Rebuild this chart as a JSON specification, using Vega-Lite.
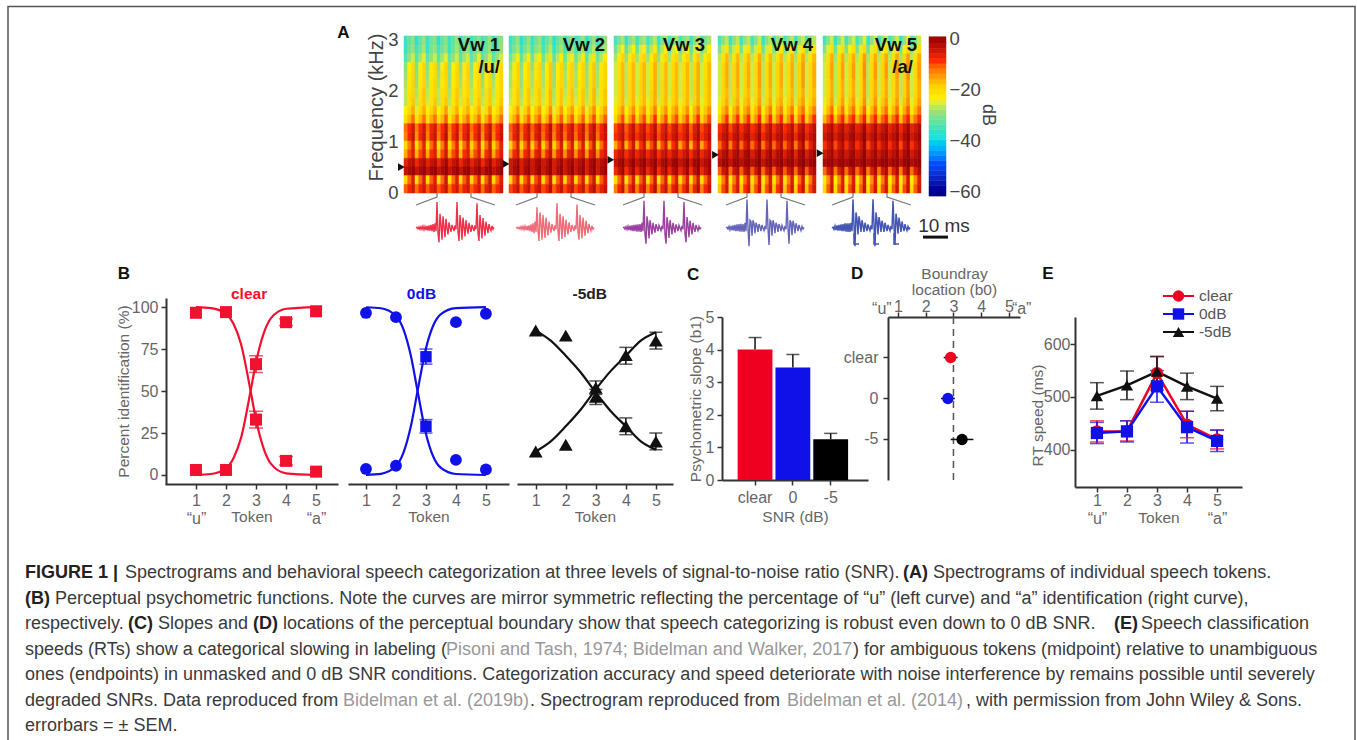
{"$schema":"https://vega.github.io/schema/vega-lite/v6.json","width":1357,"height":740,"padding":0,"autosize":{"type":"none"},"background":"white",
"config":{"font":"Liberation Sans","view":{"stroke":null},"axis":{"grid":false,"domainColor":"#333","domainWidth":2,"tickColor":"#333","tickWidth":1.5,"tickSize":5,"labelColor":"#666","labelFontSize":16,"labelPadding":3,"labelOverlap":false,"titleColor":"#666","titleFontSize":15.5,"titleFontWeight":"normal"}},
"resolve":{"scale":{"x":"independent","y":"independent","color":"independent","stroke":"independent","shape":"independent"},"axis":{"x":"independent","y":"independent"}},
"datasets":{
"spec":[
{"vw":1,"f":2.88,"f2":3.06,"db":[-37,-34,-31,-38,-34,-30,-37,-33,-31,-38,-34,-31,-37,-34,-30,-38,-33,-31,-37,-34,-31,-36,-34,-30,-37,-33,-31]},
{"vw":1,"f":2.71,"f2":2.88,"db":[-37,-33,-30,-36,-33,-29,-37,-32,-30,-36,-33,-30,-37,-33,-29,-36,-32,-30,-37,-33,-30,-36,-33,-30,-37,-33,-30]},
{"vw":1,"f":2.54,"f2":2.71,"db":[-35,-30,-27,-35,-29,-26,-34,-30,-27,-35,-29,-26,-34,-30,-27,-35,-29,-27,-34,-30,-26,-35,-30,-27,-34,-30,-27]},
{"vw":1,"f":2.37,"f2":2.54,"db":[-31,-25,-21,-32,-25,-20,-31,-24,-21,-31,-25,-20,-32,-25,-21,-31,-24,-21,-31,-25,-20,-32,-25,-21,-31,-25,-21]},
{"vw":1,"f":2.2,"f2":2.37,"db":[-30,-24,-20,-31,-24,-20,-30,-24,-21,-30,-23,-20,-31,-24,-20,-30,-24,-20,-30,-24,-21,-31,-24,-20,-30,-24,-20]},
{"vw":1,"f":2.03,"f2":2.2,"db":[-29,-24,-20,-30,-24,-20,-29,-23,-20,-29,-24,-21,-30,-24,-20,-29,-23,-20,-29,-24,-20,-30,-24,-20,-29,-24,-20]},
{"vw":1,"f":1.85,"f2":2.03,"db":[-28,-23,-20,-29,-23,-19,-28,-23,-20,-28,-22,-20,-29,-23,-19,-28,-23,-20,-28,-23,-20,-29,-22,-19,-28,-23,-20]},
{"vw":1,"f":1.68,"f2":1.85,"db":[-28,-23,-19,-28,-22,-19,-27,-23,-19,-28,-22,-19,-28,-23,-19,-27,-22,-19,-28,-23,-19,-28,-22,-19,-27,-23,-19]},
{"vw":1,"f":1.51,"f2":1.68,"db":[-25,-21,-17,-26,-21,-17,-25,-20,-17,-25,-21,-16,-26,-21,-17,-25,-20,-17,-25,-21,-17,-26,-21,-16,-25,-21,-17]},
{"vw":1,"f":1.34,"f2":1.51,"db":[-22,-18,-13,-23,-18,-13,-22,-17,-13,-22,-18,-12,-23,-18,-13,-22,-17,-13,-22,-18,-13,-23,-17,-12,-22,-18,-13]},
{"vw":1,"f":1.17,"f2":1.34,"db":[-13,-10,-6,-14,-10,-6,-13,-9,-6,-13,-10,-5,-14,-10,-6,-13,-9,-6,-13,-10,-6,-14,-9,-5,-13,-10,-6]},
{"vw":1,"f":1.0,"f2":1.17,"db":[-14,-9,-5,-15,-9,-5,-14,-8,-5,-14,-9,-4,-15,-9,-5,-14,-8,-5,-14,-9,-5,-15,-8,-4,-14,-9,-5]},
{"vw":1,"f":0.83,"f2":1.0,"db":[-21,-14,-8,-22,-14,-8,-21,-13,-8,-22,-14,-7,-21,-14,-8,-22,-13,-8,-21,-14,-8,-22,-13,-7,-21,-14,-8]},
{"vw":1,"f":0.66,"f2":0.83,"db":[-17,-11,-7,-18,-11,-7,-17,-10,-7,-18,-11,-6,-17,-11,-7,-18,-10,-7,-17,-11,-7,-18,-10,-6,-17,-11,-7]},
{"vw":1,"f":0.49,"f2":0.66,"db":[-8,-5,-3,-9,-5,-3,-8,-5,-3,-9,-5,-2,-8,-5,-3,-9,-5,-3,-8,-5,-3,-9,-5,-2,-8,-5,-3]},
{"vw":1,"f":0.32,"f2":0.49,"db":[-5,-3,-1,-5,-3,-1,-5,-2,-1,-5,-3,-1,-5,-3,-1,-5,-2,-1,-5,-3,-1,-5,-2,-1,-5,-3,-1]},
{"vw":1,"f":0.15,"f2":0.32,"db":[-21,-13,-7,-22,-13,-7,-21,-12,-7,-21,-13,-6,-22,-13,-7,-21,-12,-7,-21,-13,-7,-22,-12,-6,-21,-13,-7]},
{"vw":1,"f":-0.02,"f2":0.15,"db":[-12,-9,-6,-13,-9,-6,-12,-8,-6,-12,-9,-5,-13,-9,-6,-12,-8,-6,-12,-9,-6,-13,-8,-5,-12,-9,-6]},
{"vw":2,"f":2.88,"f2":3.06,"db":[-37,-34,-30,-38,-34,-30,-37,-33,-30,-37,-34,-30,-38,-34,-31,-37,-33,-30,-37,-34,-30,-38,-34,-30,-37,-34,-30]},
{"vw":2,"f":2.71,"f2":2.88,"db":[-36,-32,-29,-37,-32,-29,-36,-31,-29,-36,-32,-28,-37,-32,-29,-36,-31,-29,-36,-32,-29,-37,-32,-28,-36,-32,-29]},
{"vw":2,"f":2.54,"f2":2.71,"db":[-33,-28,-24,-34,-28,-24,-33,-27,-24,-33,-28,-23,-34,-28,-24,-33,-27,-24,-33,-28,-24,-34,-27,-23,-33,-28,-24]},
{"vw":2,"f":2.37,"f2":2.54,"db":[-30,-24,-20,-31,-24,-20,-30,-23,-20,-30,-24,-19,-31,-24,-20,-30,-23,-20,-30,-24,-20,-31,-23,-19,-30,-24,-20]},
{"vw":2,"f":2.2,"f2":2.37,"db":[-29,-24,-20,-30,-24,-20,-29,-23,-20,-29,-24,-19,-30,-24,-20,-29,-23,-20,-29,-24,-20,-30,-23,-19,-29,-24,-20]},
{"vw":2,"f":2.03,"f2":2.2,"db":[-29,-23,-20,-30,-23,-20,-29,-22,-20,-29,-23,-19,-30,-23,-20,-29,-22,-20,-29,-23,-20,-30,-22,-19,-29,-23,-20]},
{"vw":2,"f":1.85,"f2":2.03,"db":[-28,-23,-19,-29,-23,-19,-28,-22,-19,-28,-23,-18,-29,-23,-19,-28,-22,-19,-28,-23,-19,-29,-22,-18,-28,-23,-19]},
{"vw":2,"f":1.68,"f2":1.85,"db":[-27,-23,-19,-28,-23,-19,-27,-22,-19,-27,-23,-18,-28,-23,-19,-27,-22,-19,-27,-23,-19,-28,-22,-18,-27,-23,-19]},
{"vw":2,"f":1.51,"f2":1.68,"db":[-25,-20,-16,-26,-20,-16,-25,-19,-16,-25,-20,-15,-26,-20,-16,-25,-19,-16,-25,-20,-16,-26,-19,-15,-25,-20,-16]},
{"vw":2,"f":1.34,"f2":1.51,"db":[-22,-17,-12,-23,-17,-12,-22,-16,-12,-22,-17,-11,-23,-17,-12,-22,-16,-12,-22,-17,-12,-23,-16,-11,-22,-17,-12]},
{"vw":2,"f":1.17,"f2":1.34,"db":[-12,-9,-5,-13,-9,-5,-12,-8,-5,-12,-9,-4,-13,-9,-5,-12,-8,-5,-12,-9,-5,-13,-8,-4,-12,-9,-5]},
{"vw":2,"f":1.0,"f2":1.17,"db":[-13,-8,-5,-14,-8,-5,-13,-7,-5,-13,-8,-4,-14,-8,-5,-13,-7,-5,-13,-8,-5,-14,-7,-4,-13,-8,-5]},
{"vw":2,"f":0.83,"f2":1.0,"db":[-20,-13,-7,-21,-13,-7,-20,-12,-7,-20,-13,-6,-21,-13,-7,-20,-12,-7,-20,-13,-7,-21,-12,-6,-20,-13,-7]},
{"vw":2,"f":0.66,"f2":0.83,"db":[-15,-9,-6,-16,-9,-6,-15,-8,-6,-15,-9,-5,-16,-9,-6,-15,-8,-6,-15,-9,-6,-16,-8,-5,-15,-9,-6]},
{"vw":2,"f":0.49,"f2":0.66,"db":[-6,-4,-2,-7,-4,-2,-6,-3,-2,-6,-4,-1,-7,-4,-2,-6,-3,-2,-6,-4,-2,-7,-3,-1,-6,-4,-2]},
{"vw":2,"f":0.32,"f2":0.49,"db":[-6,-3,-1,-7,-3,-1,-6,-3,-1,-6,-3,-1,-7,-3,-1,-6,-3,-1,-6,-3,-1,-7,-3,-1,-6,-3,-1]},
{"vw":2,"f":0.15,"f2":0.32,"db":[-21,-12,-7,-22,-12,-7,-21,-11,-7,-21,-12,-6,-22,-12,-7,-21,-11,-7,-21,-12,-7,-22,-11,-6,-21,-12,-7]},
{"vw":2,"f":-0.02,"f2":0.15,"db":[-11,-8,-5,-12,-8,-5,-11,-7,-5,-11,-8,-4,-12,-8,-5,-11,-7,-5,-11,-8,-5,-12,-7,-4,-11,-8,-5]},
{"vw":3,"f":2.88,"f2":3.06,"db":[-36,-32,-29,-37,-32,-29,-36,-31,-29,-36,-32,-28,-37,-32,-29,-36,-31,-29,-36,-32,-29,-37,-31,-28,-36,-32,-29]},
{"vw":3,"f":2.71,"f2":2.88,"db":[-33,-28,-25,-34,-28,-25,-33,-27,-25,-33,-28,-24,-34,-28,-25,-33,-27,-25,-33,-28,-25,-34,-27,-24,-33,-28,-25]},
{"vw":3,"f":2.54,"f2":2.71,"db":[-29,-24,-20,-30,-24,-20,-29,-23,-20,-29,-24,-19,-30,-24,-20,-29,-23,-20,-29,-24,-20,-30,-23,-19,-29,-24,-20]},
{"vw":3,"f":2.37,"f2":2.54,"db":[-27,-22,-18,-28,-22,-18,-27,-21,-18,-27,-22,-17,-28,-22,-18,-27,-21,-18,-27,-22,-18,-28,-21,-17,-27,-22,-18]},
{"vw":3,"f":2.2,"f2":2.37,"db":[-27,-22,-18,-28,-22,-18,-27,-21,-18,-27,-22,-17,-28,-22,-18,-27,-21,-18,-27,-22,-18,-28,-21,-17,-27,-22,-18]},
{"vw":3,"f":2.03,"f2":2.2,"db":[-27,-21,-18,-28,-21,-18,-27,-20,-18,-27,-21,-17,-28,-21,-18,-27,-20,-18,-27,-21,-18,-28,-20,-17,-27,-21,-18]},
{"vw":3,"f":1.85,"f2":2.03,"db":[-27,-21,-18,-28,-21,-18,-27,-20,-18,-27,-21,-17,-28,-21,-18,-27,-20,-18,-27,-21,-18,-28,-20,-17,-27,-21,-18]},
{"vw":3,"f":1.68,"f2":1.85,"db":[-26,-21,-18,-27,-21,-18,-26,-20,-18,-26,-21,-17,-27,-21,-18,-26,-20,-18,-26,-21,-18,-27,-20,-17,-26,-21,-18]},
{"vw":3,"f":1.51,"f2":1.68,"db":[-24,-19,-15,-25,-19,-15,-24,-18,-15,-24,-19,-14,-25,-19,-15,-24,-18,-15,-24,-19,-15,-25,-18,-14,-24,-19,-15]},
{"vw":3,"f":1.34,"f2":1.51,"db":[-21,-16,-11,-22,-16,-11,-21,-15,-11,-21,-16,-10,-22,-16,-11,-21,-15,-11,-21,-16,-11,-22,-15,-10,-21,-16,-11]},
{"vw":3,"f":1.17,"f2":1.34,"db":[-11,-8,-5,-12,-8,-5,-11,-7,-5,-11,-8,-4,-12,-8,-5,-11,-7,-5,-11,-8,-5,-12,-7,-4,-11,-8,-5]},
{"vw":3,"f":1.0,"f2":1.17,"db":[-10,-7,-4,-11,-7,-4,-10,-6,-4,-10,-7,-3,-11,-7,-4,-10,-6,-4,-10,-7,-4,-11,-6,-3,-10,-7,-4]},
{"vw":3,"f":0.83,"f2":1.0,"db":[-17,-11,-6,-18,-11,-6,-17,-10,-6,-17,-11,-5,-18,-11,-6,-17,-10,-6,-17,-11,-6,-18,-10,-5,-17,-11,-6]},
{"vw":3,"f":0.66,"f2":0.83,"db":[-9,-6,-4,-10,-6,-4,-9,-5,-4,-9,-6,-3,-10,-6,-4,-9,-5,-4,-9,-6,-4,-10,-5,-3,-9,-6,-4]},
{"vw":3,"f":0.49,"f2":0.66,"db":[-5,-3,-1,-6,-3,-1,-5,-2,-1,-5,-3,-1,-6,-3,-1,-5,-2,-1,-5,-3,-1,-6,-2,-1,-5,-3,-1]},
{"vw":3,"f":0.32,"f2":0.49,"db":[-9,-5,-2,-10,-5,-2,-9,-4,-2,-9,-5,-1,-10,-5,-2,-9,-4,-2,-9,-5,-2,-10,-4,-1,-9,-5,-2]},
{"vw":3,"f":0.15,"f2":0.32,"db":[-22,-13,-7,-23,-13,-7,-22,-12,-7,-22,-13,-6,-23,-13,-7,-22,-12,-7,-22,-13,-7,-23,-12,-6,-22,-13,-7]},
{"vw":3,"f":-0.02,"f2":0.15,"db":[-14,-9,-5,-15,-9,-5,-14,-8,-5,-14,-9,-4,-15,-9,-5,-14,-8,-5,-14,-9,-5,-15,-8,-4,-14,-9,-5]},
{"vw":4,"f":2.88,"f2":3.06,"db":[-36,-31,-28,-37,-31,-28,-36,-30,-28,-36,-31,-27,-37,-31,-28,-36,-30,-28,-36,-31,-28,-37,-30,-27,-36,-31,-28]},
{"vw":4,"f":2.71,"f2":2.88,"db":[-32,-27,-23,-33,-27,-23,-32,-26,-23,-32,-27,-22,-33,-27,-23,-32,-26,-23,-32,-27,-23,-33,-26,-22,-32,-27,-23]},
{"vw":4,"f":2.54,"f2":2.71,"db":[-28,-23,-18,-29,-23,-18,-28,-22,-18,-28,-23,-17,-29,-23,-18,-28,-22,-18,-28,-23,-18,-29,-22,-17,-28,-23,-18]},
{"vw":4,"f":2.37,"f2":2.54,"db":[-27,-21,-17,-28,-21,-17,-27,-20,-17,-27,-21,-16,-28,-21,-17,-27,-20,-17,-27,-21,-17,-28,-20,-16,-27,-21,-17]},
{"vw":4,"f":2.2,"f2":2.37,"db":[-27,-21,-17,-28,-21,-17,-27,-20,-17,-27,-21,-16,-28,-21,-17,-27,-20,-17,-27,-21,-17,-28,-20,-16,-27,-21,-17]},
{"vw":4,"f":2.03,"f2":2.2,"db":[-27,-21,-17,-28,-21,-17,-27,-20,-17,-27,-21,-16,-28,-21,-17,-27,-20,-17,-27,-21,-17,-28,-20,-16,-27,-21,-17]},
{"vw":4,"f":1.85,"f2":2.03,"db":[-27,-21,-18,-28,-21,-18,-27,-20,-18,-27,-21,-17,-28,-21,-18,-27,-20,-18,-27,-21,-18,-28,-20,-17,-27,-21,-18]},
{"vw":4,"f":1.68,"f2":1.85,"db":[-26,-20,-17,-27,-20,-17,-26,-19,-17,-26,-20,-16,-27,-20,-17,-26,-19,-17,-26,-20,-17,-27,-19,-16,-26,-20,-17]},
{"vw":4,"f":1.51,"f2":1.68,"db":[-24,-18,-14,-25,-18,-14,-24,-17,-14,-24,-18,-13,-25,-18,-14,-24,-17,-14,-24,-18,-14,-25,-17,-13,-24,-18,-14]},
{"vw":4,"f":1.34,"f2":1.51,"db":[-20,-15,-10,-21,-15,-10,-20,-14,-10,-20,-15,-9,-21,-15,-10,-20,-14,-10,-20,-15,-10,-21,-14,-9,-20,-15,-10]},
{"vw":4,"f":1.17,"f2":1.34,"db":[-10,-7,-4,-11,-7,-4,-10,-6,-4,-10,-7,-3,-11,-7,-4,-10,-6,-4,-10,-7,-4,-11,-6,-3,-10,-7,-4]},
{"vw":4,"f":1.0,"f2":1.17,"db":[-8,-5,-3,-9,-5,-3,-8,-4,-3,-8,-5,-2,-9,-5,-3,-8,-4,-3,-8,-5,-3,-9,-4,-2,-8,-5,-3]},
{"vw":4,"f":0.83,"f2":1.0,"db":[-13,-8,-4,-14,-8,-4,-13,-7,-4,-13,-8,-3,-14,-8,-4,-13,-7,-4,-13,-8,-4,-14,-7,-3,-13,-8,-4]},
{"vw":4,"f":0.66,"f2":0.83,"db":[-7,-4,-2,-8,-4,-2,-7,-3,-2,-7,-4,-1,-8,-4,-2,-7,-3,-2,-7,-4,-2,-8,-3,-1,-7,-4,-2]},
{"vw":4,"f":0.49,"f2":0.66,"db":[-4,-2,-1,-5,-2,-1,-4,-2,-1,-4,-2,0,-5,-2,-1,-4,-2,-1,-4,-2,-1,-5,-2,0,-4,-2,-1]},
{"vw":4,"f":0.32,"f2":0.49,"db":[-12,-6,-3,-13,-6,-3,-12,-5,-3,-12,-6,-2,-13,-6,-3,-12,-5,-3,-12,-6,-3,-13,-5,-2,-12,-6,-3]},
{"vw":4,"f":0.15,"f2":0.32,"db":[-23,-14,-7,-24,-14,-7,-23,-13,-7,-23,-14,-6,-24,-14,-7,-23,-13,-7,-23,-14,-7,-24,-13,-6,-23,-14,-7]},
{"vw":4,"f":-0.02,"f2":0.15,"db":[-19,-11,-6,-20,-11,-6,-19,-10,-6,-19,-11,-5,-20,-11,-6,-19,-10,-6,-19,-11,-6,-20,-10,-5,-19,-11,-6]},
{"vw":5,"f":2.88,"f2":3.06,"db":[-36,-31,-27,-37,-31,-27,-36,-30,-27,-36,-31,-26,-37,-31,-27,-36,-30,-27,-36,-31,-27,-37,-30,-26,-36,-31,-27]},
{"vw":5,"f":2.71,"f2":2.88,"db":[-32,-26,-22,-33,-26,-22,-32,-25,-22,-32,-26,-21,-33,-26,-22,-32,-25,-22,-32,-26,-22,-33,-25,-21,-32,-26,-22]},
{"vw":5,"f":2.54,"f2":2.71,"db":[-28,-22,-17,-29,-22,-17,-28,-21,-17,-28,-22,-16,-29,-22,-17,-28,-21,-17,-28,-22,-17,-29,-21,-16,-28,-22,-17]},
{"vw":5,"f":2.37,"f2":2.54,"db":[-27,-21,-16,-28,-21,-16,-27,-20,-16,-27,-21,-15,-28,-21,-16,-27,-20,-16,-27,-21,-16,-28,-20,-15,-27,-21,-16]},
{"vw":5,"f":2.2,"f2":2.37,"db":[-27,-21,-16,-28,-21,-16,-27,-20,-16,-27,-21,-15,-28,-21,-16,-27,-20,-16,-27,-21,-16,-28,-20,-15,-27,-21,-16]},
{"vw":5,"f":2.03,"f2":2.2,"db":[-27,-21,-17,-28,-21,-17,-27,-20,-17,-27,-21,-16,-28,-21,-17,-27,-20,-17,-27,-21,-17,-28,-20,-16,-27,-21,-17]},
{"vw":5,"f":1.85,"f2":2.03,"db":[-27,-21,-17,-28,-21,-17,-27,-20,-17,-27,-21,-16,-28,-21,-17,-27,-20,-17,-27,-21,-17,-28,-20,-16,-27,-21,-17]},
{"vw":5,"f":1.68,"f2":1.85,"db":[-26,-20,-16,-27,-20,-16,-26,-19,-16,-26,-20,-15,-27,-20,-16,-26,-19,-16,-26,-20,-16,-27,-19,-15,-26,-20,-16]},
{"vw":5,"f":1.51,"f2":1.68,"db":[-24,-18,-13,-25,-18,-13,-24,-17,-13,-24,-18,-12,-25,-18,-13,-24,-17,-13,-24,-18,-13,-25,-17,-12,-24,-18,-13]},
{"vw":5,"f":1.34,"f2":1.51,"db":[-18,-13,-9,-19,-13,-9,-18,-12,-9,-18,-13,-8,-19,-13,-9,-18,-12,-9,-18,-13,-9,-19,-12,-8,-18,-13,-9]},
{"vw":5,"f":1.17,"f2":1.34,"db":[-8,-6,-3,-9,-6,-3,-8,-5,-3,-8,-6,-2,-9,-6,-3,-8,-5,-3,-8,-6,-3,-9,-5,-2,-8,-6,-3]},
{"vw":5,"f":1.0,"f2":1.17,"db":[-6,-4,-2,-7,-4,-2,-6,-3,-2,-6,-4,-1,-7,-4,-2,-6,-3,-2,-6,-4,-2,-7,-3,-1,-6,-4,-2]},
{"vw":5,"f":0.83,"f2":1.0,"db":[-10,-6,-3,-11,-6,-3,-10,-5,-3,-10,-6,-2,-11,-6,-3,-10,-5,-3,-10,-6,-3,-11,-5,-2,-10,-6,-3]},
{"vw":5,"f":0.66,"f2":0.83,"db":[-6,-4,-2,-7,-4,-2,-6,-3,-2,-6,-4,-1,-7,-4,-2,-6,-3,-2,-6,-4,-2,-7,-3,-1,-6,-4,-2]},
{"vw":5,"f":0.49,"f2":0.66,"db":[-3,-2,-1,-4,-2,-1,-3,-1,-1,-3,-2,0,-4,-2,-1,-3,-1,-1,-3,-2,-1,-4,-1,0,-3,-2,-1]},
{"vw":5,"f":0.32,"f2":0.49,"db":[-13,-7,-3,-14,-7,-3,-13,-6,-3,-13,-7,-2,-14,-7,-3,-13,-6,-3,-13,-7,-3,-14,-6,-2,-13,-7,-3]},
{"vw":5,"f":0.15,"f2":0.32,"db":[-24,-15,-7,-25,-15,-7,-24,-14,-7,-24,-15,-6,-25,-15,-7,-24,-14,-7,-24,-15,-7,-25,-14,-6,-24,-15,-7]},
{"vw":5,"f":-0.02,"f2":0.15,"db":[-21,-12,-6,-22,-12,-6,-21,-11,-6,-21,-12,-5,-22,-12,-6,-21,-11,-6,-21,-12,-6,-22,-11,-5,-21,-12,-6]}
],
"wave":[
{"vw":1,"amp":[0,0.03,-0.03,0.04,-0.05,0.05,-0.05,0.07,-0.07,0.06,-0.08,0.08,-0.1,0.1,-0.1,0.12,-0.12,0.15,-0.15,0.18,-0.12,1,-0.2,-0.55,0.55,0.1,-0.45,0.45,0.05,-0.35,0.35,0,-0.25,0.22,0.02,-0.15,0.12,0,-0.12,0.1,-0.05,1,-0.15,-0.5,0.5,0.1,-0.45,0.4,0.05,-0.32,0.3,0,-0.22,0.2,0.02,-0.15,0.12,0,-0.12,0.1,-0.05,0.95,-0.2,-0.5,0.5,0.08,-0.4,0.38,0.03,-0.3,0.25,0,-0.2,0.15,0,-0.1,0.08,-0.05,0.03]},
{"vw":2,"amp":[0,0.02,-0.02,0.03,-0.04,0.05,-0.05,0.06,-0.06,0.07,-0.08,0.08,-0.09,0.1,-0.12,0.14,-0.15,0.18,-0.2,0.25,-0.15,0.8,-0.1,-0.5,0.6,0.15,-0.45,0.5,0.05,-0.38,0.4,0,-0.28,0.25,0.02,-0.18,0.15,0,-0.12,0.1,-0.05,0.95,-0.12,-0.5,0.55,0.1,-0.42,0.45,0.05,-0.35,0.32,0,-0.25,0.22,0.02,-0.15,0.12,0,-0.12,0.1,-0.05,0.9,-0.15,-0.45,0.5,0.08,-0.4,0.4,0.03,-0.3,0.28,0,-0.2,0.16,0,-0.1,0.08,-0.05,0.02]},
{"vw":3,"amp":[0,0.03,-0.04,0.05,-0.06,0.07,-0.08,0.09,-0.1,0.1,-0.12,0.12,-0.12,0.13,-0.14,0.14,-0.14,0.15,-0.15,0.2,-0.12,1.05,-0.25,-0.6,0.45,0.15,-0.4,0.3,0.05,-0.25,0.2,0,-0.18,0.15,0.02,-0.12,0.1,0,-0.1,0.08,-0.05,1.05,-0.25,-0.6,0.42,0.12,-0.38,0.3,0.05,-0.25,0.2,0,-0.18,0.14,0.02,-0.12,0.1,0,-0.1,0.08,-0.05,1,-0.22,-0.55,0.42,0.1,-0.35,0.28,0.03,-0.25,0.2,0,-0.15,0.12,0,-0.1,0.06,-0.04,0.02]},
{"vw":4,"amp":[0,0.03,-0.04,0.06,-0.07,0.08,-0.09,0.1,-0.1,0.12,-0.12,0.14,-0.12,0.15,-0.14,0.16,-0.14,0.15,-0.15,0.2,-0.12,1.1,0,-0.7,0.3,0.25,-0.3,0.3,0.18,-0.2,0.2,0.1,-0.15,0.15,0.05,-0.12,0.12,0,-0.1,0.08,-0.05,1.1,0,-0.65,0.3,0.25,-0.3,0.3,0.15,-0.2,0.2,0.1,-0.15,0.15,0.05,-0.12,0.1,0,-0.1,0.08,-0.05,1.05,0,-0.6,0.3,0.22,-0.28,0.28,0.12,-0.2,0.18,0.05,-0.12,0.12,0,-0.1,0.06,-0.04,0.02]},
{"vw":5,"amp":[0,0.03,-0.05,0.08,-0.08,0.1,-0.1,0.12,-0.1,0.14,-0.12,0.15,-0.12,0.18,-0.14,0.18,-0.15,0.18,-0.15,0.2,-0.12,1.1,0.1,-0.7,0.6,0.35,-0.25,0.45,0.2,-0.15,0.3,0.1,-0.15,0.2,0.05,-0.12,0.14,0,-0.1,0.1,-0.05,1.1,0.1,-0.7,0.6,0.3,-0.25,0.42,0.2,-0.15,0.28,0.1,-0.15,0.2,0.05,-0.12,0.12,0,-0.1,0.08,-0.05,1.05,0.1,-0.65,0.55,0.28,-0.22,0.4,0.15,-0.15,0.25,0.05,-0.12,0.15,0,-0.1,0.06,-0.04,0.02]}
],
"bracket":[{"side":"l","i":1,"amp":0.885},{"side":"l","i":22,"amp":1.19},{"side":"l","i":22,"amp":1.35},{"side":"r","i":56,"amp":1.35},{"side":"r","i":56,"amp":1.19},{"side":"r","i":80,"amp":0.885}],
"boundary":[{"snr":"clear","b0":2.9,"low":2.65,"high":3.15},{"snr":"0","b0":2.8,"low":2.55,"high":3.05},{"snr":"-5","b0":3.31,"low":2.9,"high":3.72}],
"rt":[{"s":"clear","token":1,"rt":435,"low":415,"high":455},{"s":"clear","token":2,"rt":435,"low":417,"high":455},{"s":"clear","token":3,"rt":545,"low":513,"high":577},{"s":"clear","token":4,"rt":448,"low":423,"high":473},{"s":"clear","token":5,"rt":420,"low":402,"high":438},{"s":"0dB","token":1,"rt":432,"low":412,"high":452},{"s":"0dB","token":2,"rt":435,"low":415,"high":455},{"s":"0dB","token":3,"rt":520,"low":490,"high":550},{"s":"0dB","token":4,"rt":443,"low":413,"high":473},{"s":"0dB","token":5,"rt":417,"low":397,"high":437},{"s":"-5dB","token":1,"rt":502,"low":477,"high":527},{"s":"-5dB","token":2,"rt":522,"low":495,"high":549},{"s":"-5dB","token":3,"rt":548,"low":520,"high":576},{"s":"-5dB","token":4,"rt":520,"low":495,"high":545},{"s":"-5dB","token":5,"rt":497,"low":474,"high":520}]
},
"layer":[
{"data":{"values":[{"left":0,"right":1,"bottom":0,"top":1}]},"mark":{"type":"rect","fillOpacity":0,"stroke":"#555","strokeWidth":1.5},"encoding":{"x":{"field":"left","type":"quantitative","axis":null,"scale":{"domain":[0,1],"range":[8,1355]}},"x2":{"field":"right"},"y":{"field":"bottom","type":"quantitative","axis":null,"scale":{"domain":[0,1],"range":[746,6.5]}},"y2":{"field":"top"}}},

{"data":{"name":"spec"},"transform":[{"filter":"datum.vw==1"},{"flatten":["db"]},{"window":[{"op":"row_number","as":"t"}],"groupby":["f"]}],"mark":{"type":"rect","strokeWidth":0.5},"encoding":{"x":{"field":"t","type":"ordinal","axis":null,"scale":{"range":[404,503],"paddingInner":0,"paddingOuter":0}},"y":{"field":"f","type":"quantitative","scale":{"domain":[0,3],"range":[192,39]},"axis":{"orient":"left","offset":-398,"values":[0,1,2,3],"domain":false,"ticks":false,"labelColor":"#444","labelFontSize":18.5,"labelPadding":0,"title":"Frequency (kHz)","titleFontSize":20,"titleColor":"#444","titleX":-22,"titleY":107,"titleBaseline":"middle"}},"y2":{"field":"f2"},"color":{"field":"db","type":"quantitative","legend":null,"scale":{"domain":[-60,-50,-40,-30,-25,-20,-10,0],"range":["#00009a","#0050ff","#20e0e0","#98e078","#ffef00","#ffd400","#ff2a00","#8b0000"]}},"stroke":{"field":"db","type":"quantitative","legend":null,"scale":{"domain":[-60,-50,-40,-30,-25,-20,-10,0],"range":["#00009a","#0050ff","#20e0e0","#98e078","#ffef00","#ffd400","#ff2a00","#8b0000"]}}}},
{"data":{"name":"spec"},"transform":[{"filter":"datum.vw==2"},{"flatten":["db"]},{"window":[{"op":"row_number","as":"t"}],"groupby":["f"]}],"mark":{"type":"rect","strokeWidth":0.5},"encoding":{"x":{"field":"t","type":"ordinal","axis":null,"scale":{"range":[509,607],"paddingInner":0,"paddingOuter":0}},"y":{"field":"f","type":"quantitative","axis":null,"scale":{"domain":[0,3],"range":[192,39]}},"y2":{"field":"f2"},"color":{"field":"db","type":"quantitative","legend":null,"scale":{"domain":[-60,-50,-40,-30,-25,-20,-10,0],"range":["#00009a","#0050ff","#20e0e0","#98e078","#ffef00","#ffd400","#ff2a00","#8b0000"]}},"stroke":{"field":"db","type":"quantitative","legend":null,"scale":{"domain":[-60,-50,-40,-30,-25,-20,-10,0],"range":["#00009a","#0050ff","#20e0e0","#98e078","#ffef00","#ffd400","#ff2a00","#8b0000"]}}}},
{"data":{"name":"spec"},"transform":[{"filter":"datum.vw==3"},{"flatten":["db"]},{"window":[{"op":"row_number","as":"t"}],"groupby":["f"]}],"mark":{"type":"rect","strokeWidth":0.5},"encoding":{"x":{"field":"t","type":"ordinal","axis":null,"scale":{"range":[614,711],"paddingInner":0,"paddingOuter":0}},"y":{"field":"f","type":"quantitative","axis":null,"scale":{"domain":[0,3],"range":[192,39]}},"y2":{"field":"f2"},"color":{"field":"db","type":"quantitative","legend":null,"scale":{"domain":[-60,-50,-40,-30,-25,-20,-10,0],"range":["#00009a","#0050ff","#20e0e0","#98e078","#ffef00","#ffd400","#ff2a00","#8b0000"]}},"stroke":{"field":"db","type":"quantitative","legend":null,"scale":{"domain":[-60,-50,-40,-30,-25,-20,-10,0],"range":["#00009a","#0050ff","#20e0e0","#98e078","#ffef00","#ffd400","#ff2a00","#8b0000"]}}}},
{"data":{"name":"spec"},"transform":[{"filter":"datum.vw==4"},{"flatten":["db"]},{"window":[{"op":"row_number","as":"t"}],"groupby":["f"]}],"mark":{"type":"rect","strokeWidth":0.5},"encoding":{"x":{"field":"t","type":"ordinal","axis":null,"scale":{"range":[718,816],"paddingInner":0,"paddingOuter":0}},"y":{"field":"f","type":"quantitative","axis":null,"scale":{"domain":[0,3],"range":[192,39]}},"y2":{"field":"f2"},"color":{"field":"db","type":"quantitative","legend":null,"scale":{"domain":[-60,-50,-40,-30,-25,-20,-10,0],"range":["#00009a","#0050ff","#20e0e0","#98e078","#ffef00","#ffd400","#ff2a00","#8b0000"]}},"stroke":{"field":"db","type":"quantitative","legend":null,"scale":{"domain":[-60,-50,-40,-30,-25,-20,-10,0],"range":["#00009a","#0050ff","#20e0e0","#98e078","#ffef00","#ffd400","#ff2a00","#8b0000"]}}}},
{"data":{"name":"spec"},"transform":[{"filter":"datum.vw==5"},{"flatten":["db"]},{"window":[{"op":"row_number","as":"t"}],"groupby":["f"]}],"mark":{"type":"rect","strokeWidth":0.5},"encoding":{"x":{"field":"t","type":"ordinal","axis":null,"scale":{"range":[823,921],"paddingInner":0,"paddingOuter":0}},"y":{"field":"f","type":"quantitative","axis":null,"scale":{"domain":[0,3],"range":[192,39]}},"y2":{"field":"f2"},"color":{"field":"db","type":"quantitative","legend":null,"scale":{"domain":[-60,-50,-40,-30,-25,-20,-10,0],"range":["#00009a","#0050ff","#20e0e0","#98e078","#ffef00","#ffd400","#ff2a00","#8b0000"]}},"stroke":{"field":"db","type":"quantitative","legend":null,"scale":{"domain":[-60,-50,-40,-30,-25,-20,-10,0],"range":["#00009a","#0050ff","#20e0e0","#98e078","#ffef00","#ffd400","#ff2a00","#8b0000"]}}}},

{"data":{"values":[{"db":-62,"top":-60},{"db":-60,"top":-58},{"db":-58,"top":-56},{"db":-56,"top":-54},{"db":-54,"top":-52},{"db":-52,"top":-50},{"db":-50,"top":-48},{"db":-48,"top":-46},{"db":-46,"top":-44},{"db":-44,"top":-42},{"db":-42,"top":-40},{"db":-40,"top":-38},{"db":-38,"top":-36},{"db":-36,"top":-34},{"db":-34,"top":-32},{"db":-32,"top":-30},{"db":-30,"top":-28},{"db":-28,"top":-26},{"db":-26,"top":-24},{"db":-24,"top":-22},{"db":-22,"top":-20},{"db":-20,"top":-18},{"db":-18,"top":-16},{"db":-16,"top":-14},{"db":-14,"top":-12},{"db":-12,"top":-10},{"db":-10,"top":-8},{"db":-8,"top":-6},{"db":-6,"top":-4},{"db":-4,"top":-2},{"db":-2,"top":0.5}]},"mark":{"type":"rect","strokeWidth":0.5},"encoding":{"x":{"datum":0,"type":"quantitative","axis":null,"scale":{"domain":[0,1],"range":[929,946]}},"x2":{"datum":1},"y":{"field":"db","type":"quantitative","scale":{"domain":[-60,0],"range":[191,38]},"axis":{"orient":"right","offset":-410,"values":[0,-20,-40,-60],"domain":false,"ticks":false,"labelColor":"#444","labelFontSize":18.5,"labelPadding":2,"title":"dB","titleFontSize":18,"titleColor":"#444","titlePadding":-2}},"y2":{"field":"top"},"color":{"field":"db","type":"quantitative","legend":null,"scale":{"domain":[-60,-50,-40,-30,-25,-20,-10,0],"range":["#00009a","#0050ff","#20e0e0","#98e078","#ffef00","#ffd400","#ff2a00","#8b0000"]}},"stroke":{"field":"db","type":"quantitative","legend":null,"scale":{"domain":[-60,-50,-40,-30,-25,-20,-10,0],"range":["#00009a","#0050ff","#20e0e0","#98e078","#ffef00","#ffd400","#ff2a00","#8b0000"]}}}},

{"encoding":{"x":{"field":"pos","type":"quantitative","axis":null,"scale":{"domain":[0,5],"range":[404,927.5]}},"y":{"field":"f","type":"quantitative","axis":null,"scale":{"domain":[0,3],"range":[192,39]}}},"layer":[
{"data":{"values":[{"pos":-0.025,"f":0.49},{"pos":0.975,"f":0.55},{"pos":1.975,"f":0.63},{"pos":2.975,"f":0.73},{"pos":3.975,"f":0.76}]},"mark":{"type":"point","shape":"triangle-right","filled":true,"color":"#111","size":60,"opacity":1}},
{"data":{"values":[{"pos":0.917,"f":2.88,"label":"Vw 1"},{"pos":1.92,"f":2.88,"label":"Vw 2"},{"pos":2.875,"f":2.88,"label":"Vw 3"},{"pos":3.906,"f":2.88,"label":"Vw 4"},{"pos":4.9,"f":2.88,"label":"Vw 5"},{"pos":0.917,"f":2.45,"label":"/u/"},{"pos":4.86,"f":2.45,"label":"/a/"}]},"mark":{"type":"text","align":"right","baseline":"middle","fontWeight":"bold","fontSize":18.5,"color":"#111"},"encoding":{"text":{"field":"label"}}},
{"data":{"values":[{"pos":-0.58,"f":3.12,"label":"A"}]},"mark":{"type":"text","baseline":"middle","fontWeight":"bold","fontSize":17,"color":"#111"},"encoding":{"text":{"field":"label"}}}
]},

{"encoding":{"x":{"field":"i","type":"quantitative","axis":null,"scale":{"domain":[1,80],"range":[416,495]}},"y":{"field":"amp","type":"quantitative","axis":null,"scale":{"domain":[-1,1],"range":[254,202]}}},"layer":[{"data":{"name":"wave"},"transform":[{"filter":"datum.vw==1"},{"flatten":["amp"]},{"window":[{"op":"row_number","as":"i"}]}],"mark":{"type":"line","color":"#f0304a","strokeWidth":1.4}},{"data":{"name":"bracket"},"mark":{"type":"line","color":"#777","strokeWidth":1.2},"encoding":{"detail":{"field":"side"}}}]},
{"encoding":{"x":{"field":"i","type":"quantitative","axis":null,"scale":{"domain":[1,80],"range":[516,595]}},"y":{"field":"amp","type":"quantitative","axis":null,"scale":{"domain":[-1,1],"range":[254,202]}}},"layer":[{"data":{"name":"wave"},"transform":[{"filter":"datum.vw==2"},{"flatten":["amp"]},{"window":[{"op":"row_number","as":"i"}]}],"mark":{"type":"line","color":"#f06a78","strokeWidth":1.4}},{"data":{"name":"bracket"},"mark":{"type":"line","color":"#777","strokeWidth":1.2},"encoding":{"detail":{"field":"side"}}}]},
{"encoding":{"x":{"field":"i","type":"quantitative","axis":null,"scale":{"domain":[1,80],"range":[623,702]}},"y":{"field":"amp","type":"quantitative","axis":null,"scale":{"domain":[-1,1],"range":[254,202]}}},"layer":[{"data":{"name":"wave"},"transform":[{"filter":"datum.vw==3"},{"flatten":["amp"]},{"window":[{"op":"row_number","as":"i"}]}],"mark":{"type":"line","color":"#9b3fa0","strokeWidth":1.4}},{"data":{"name":"bracket"},"mark":{"type":"line","color":"#777","strokeWidth":1.2},"encoding":{"detail":{"field":"side"}}}]},
{"encoding":{"x":{"field":"i","type":"quantitative","axis":null,"scale":{"domain":[1,80],"range":[726,805]}},"y":{"field":"amp","type":"quantitative","axis":null,"scale":{"domain":[-1,1],"range":[254,202]}}},"layer":[{"data":{"name":"wave"},"transform":[{"filter":"datum.vw==4"},{"flatten":["amp"]},{"window":[{"op":"row_number","as":"i"}]}],"mark":{"type":"line","color":"#6464b8","strokeWidth":1.4}},{"data":{"name":"bracket"},"mark":{"type":"line","color":"#777","strokeWidth":1.2},"encoding":{"detail":{"field":"side"}}}]},
{"encoding":{"x":{"field":"i","type":"quantitative","axis":null,"scale":{"domain":[1,80],"range":[832,911]}},"y":{"field":"amp","type":"quantitative","axis":null,"scale":{"domain":[-1,1],"range":[254,202]}}},"layer":[{"data":{"name":"wave"},"transform":[{"filter":"datum.vw==5"},{"flatten":["amp"]},{"window":[{"op":"row_number","as":"i"}]}],"mark":{"type":"line","color":"#4456b4","strokeWidth":1.5}},{"data":{"name":"bracket"},"mark":{"type":"line","color":"#777","strokeWidth":1.2},"encoding":{"detail":{"field":"side"}}},
{"data":{"values":[{"b":1,"i":23,"amp":-0.2},{"b":1,"i":23,"amp":-0.62},{"b":1,"i":28,"amp":-0.62},{"b":2,"i":43,"amp":-0.2},{"b":2,"i":43,"amp":-0.62},{"b":2,"i":48,"amp":-0.62},{"b":3,"i":63,"amp":-0.2},{"b":3,"i":63,"amp":-0.62},{"b":3,"i":68,"amp":-0.62}]},"mark":{"type":"line","color":"#4456b4","strokeWidth":1.5},"encoding":{"detail":{"field":"b"}}},
{"data":{"values":[{"i":92,"end":117,"amp":-0.35}]},"mark":{"type":"rule","color":"#111","strokeWidth":3},"encoding":{"x2":{"field":"end"}}},
{"data":{"values":[{"i":113,"amp":0.08,"label":"10 ms"}]},"mark":{"type":"text","baseline":"middle","fontSize":19,"color":"#333"},"encoding":{"text":{"field":"label"}}}]},

{"data":{"values":[{"token":3,"low":28,"high":38},{"token":3,"low":61,"high":71},{"token":4,"low":6,"high":11},{"token":4,"low":89,"high":93}]},"encoding":{"x":{"field":"token","type":"quantitative","axis":null,"scale":{"domain":[-0.03,5.73],"range":[165,338]}},"y":{"field":"low","type":"quantitative","axis":null,"scale":{"domain":[-5.36,105.4],"range":[484,298]}}},"layer":[{"mark":{"type":"rule","color":"#f01030","strokeWidth":1.5},"encoding":{"y2":{"field":"high"}}},{"mark":{"type":"tick","color":"#f01030","orient":"horizontal","size":14,"thickness":1.5}},{"mark":{"type":"tick","color":"#f01030","orient":"horizontal","size":14,"thickness":1.5},"encoding":{"y":{"field":"high","type":"quantitative","axis":null}}}]},
{"encoding":{"x":{"field":"token","type":"quantitative","scale":{"domain":[-0.03,5.73],"range":[165,338]},"axis":{"orient":"bottom","offset":-256,"values":[1,2,3,4,5],"labelExpr":"datum.value==1?['1','“u”']:datum.value==5?['5','“a”']:datum.label","title":"Token","titleY":32,"titleBaseline":"middle"}},"y":{"field":"pct","type":"quantitative","scale":{"domain":[-5.36,105.4],"range":[484,298]},"axis":{"orient":"left","offset":-166,"values":[0,25,50,75,100],"title":"Percent identification (%)","titleX":-43,"titleBaseline":"middle"}}},"layer":[
{"data":{"values":[{"c":"u","token":1,"pct":100},{"c":"u","token":1.5,"pct":99.4},{"c":"u","token":2,"pct":96},{"c":"u","token":2.25,"pct":90},{"c":"u","token":2.5,"pct":78},{"c":"u","token":2.82,"pct":50},{"c":"u","token":3,"pct":33},{"c":"u","token":3.25,"pct":16},{"c":"u","token":3.5,"pct":6.6},{"c":"u","token":4,"pct":1},{"c":"u","token":5,"pct":0},{"c":"a","token":1,"pct":0},{"c":"a","token":1.5,"pct":0.6},{"c":"a","token":2,"pct":4},{"c":"a","token":2.25,"pct":10},{"c":"a","token":2.5,"pct":22},{"c":"a","token":2.82,"pct":50},{"c":"a","token":3,"pct":67},{"c":"a","token":3.25,"pct":84},{"c":"a","token":3.5,"pct":93.4},{"c":"a","token":4,"pct":99},{"c":"a","token":5,"pct":100}]},"mark":{"type":"line","color":"#f01030","strokeWidth":2.2,"interpolate":"monotone"},"encoding":{"detail":{"field":"c"}}},
{"data":{"values":[{"token":1,"pct":96.6},{"token":2,"pct":97},{"token":3,"pct":33},{"token":4,"pct":8.4},{"token":5,"pct":2},{"token":1,"pct":3},{"token":2,"pct":3},{"token":3,"pct":66},{"token":4,"pct":91},{"token":5,"pct":97.5}]},"mark":{"type":"point","shape":"square","filled":true,"color":"#f01030","size":144,"opacity":1}},
{"data":{"values":[{"token":2.77,"pct":108,"label":"clear"}]},"mark":{"type":"text","fontWeight":"bold","fontSize":15.5,"color":"#f01030","baseline":"middle"},"encoding":{"text":{"field":"label"}}},
{"data":{"values":[{"token":-1.4,"pct":119.6,"label":"B"}]},"mark":{"type":"text","fontWeight":"bold","fontSize":17,"color":"#111","baseline":"middle"},"encoding":{"text":{"field":"label"}}}
]},

{"data":{"values":[{"token":3,"low":25,"high":33},{"token":3,"low":66,"high":75}]},"encoding":{"x":{"field":"token","type":"quantitative","axis":null,"scale":{"domain":[0.4,5.77],"range":[348,509]}},"y":{"field":"low","type":"quantitative","axis":null,"scale":{"domain":[-5.36,105.4],"range":[484,298]}}},"layer":[{"mark":{"type":"rule","color":"#1010e8","strokeWidth":1.5},"encoding":{"y2":{"field":"high"}}},{"mark":{"type":"tick","color":"#1010e8","orient":"horizontal","size":13,"thickness":1.5}},{"mark":{"type":"tick","color":"#1010e8","orient":"horizontal","size":13,"thickness":1.5},"encoding":{"y":{"field":"high","type":"quantitative","axis":null}}}]},
{"encoding":{"x":{"field":"token","type":"quantitative","scale":{"domain":[0.4,5.77],"range":[348,509]},"axis":{"orient":"bottom","offset":-256,"values":[1,2,3,4,5],"title":"Token","titleY":32,"titleBaseline":"middle"}},"y":{"field":"pct","type":"quantitative","axis":null,"scale":{"domain":[-5.36,105.4],"range":[484,298]}}},"layer":[
{"data":{"values":[{"c":"u","token":1,"pct":99.9},{"c":"u","token":1.5,"pct":99.3},{"c":"u","token":2,"pct":94.7},{"c":"u","token":2.25,"pct":86.7},{"c":"u","token":2.5,"pct":70.7},{"c":"u","token":2.72,"pct":50},{"c":"u","token":3,"pct":24.6},{"c":"u","token":3.25,"pct":10.7},{"c":"u","token":3.5,"pct":4.2},{"c":"u","token":4,"pct":0.6},{"c":"u","token":5,"pct":0},{"c":"a","token":1,"pct":0.1},{"c":"a","token":1.5,"pct":0.7},{"c":"a","token":2,"pct":5.3},{"c":"a","token":2.25,"pct":13.3},{"c":"a","token":2.5,"pct":29.3},{"c":"a","token":2.72,"pct":50},{"c":"a","token":3,"pct":75.4},{"c":"a","token":3.25,"pct":89.3},{"c":"a","token":3.5,"pct":95.8},{"c":"a","token":4,"pct":99.4},{"c":"a","token":5,"pct":100}]},"mark":{"type":"line","color":"#1010e8","strokeWidth":2.2,"interpolate":"monotone"},"encoding":{"detail":{"field":"c"}}},
{"data":{"values":[{"token":1,"pct":96.5},{"token":2,"pct":94},{"token":4,"pct":91},{"token":5,"pct":96},{"token":1,"pct":3.6},{"token":2,"pct":5.5},{"token":4,"pct":9},{"token":5,"pct":3.3}]},"mark":{"type":"point","shape":"circle","filled":true,"color":"#1010e8","size":140,"opacity":1}},
{"data":{"values":[{"token":3,"pct":29},{"token":3,"pct":70.4}]},"mark":{"type":"point","shape":"square","filled":true,"color":"#1010e8","size":130,"opacity":1}},
{"data":{"values":[{"token":2.85,"pct":108,"label":"0dB"}]},"mark":{"type":"text","fontWeight":"bold","fontSize":15.5,"color":"#1010e8","baseline":"middle"},"encoding":{"text":{"field":"label"}}}
]},

{"data":{"values":[{"token":3,"low":48,"high":56},{"token":3,"low":42,"high":51},{"token":4,"low":24,"high":34},{"token":4,"low":66,"high":76},{"token":5,"low":15,"high":25},{"token":5,"low":75,"high":85}]},"encoding":{"x":{"field":"token","type":"quantitative","axis":null,"scale":{"domain":[0.377,5.57],"range":[517,673]}},"y":{"field":"low","type":"quantitative","axis":null,"scale":{"domain":[-5.36,105.4],"range":[484,298]}}},"layer":[{"mark":{"type":"rule","color":"#111","strokeWidth":1.5},"encoding":{"y2":{"field":"high"}}},{"mark":{"type":"tick","color":"#111","orient":"horizontal","size":13,"thickness":1.5}},{"mark":{"type":"tick","color":"#111","orient":"horizontal","size":13,"thickness":1.5},"encoding":{"y":{"field":"high","type":"quantitative","axis":null}}}]},
{"encoding":{"x":{"field":"token","type":"quantitative","scale":{"domain":[0.377,5.57],"range":[517,673]},"axis":{"orient":"bottom","offset":-256,"values":[1,2,3,4,5],"title":"Token","titleY":32,"titleBaseline":"middle"}},"y":{"field":"pct","type":"quantitative","axis":null,"scale":{"domain":[-5.36,105.4],"range":[484,298]}}},"layer":[
{"data":{"values":[{"c":"u","token":1,"pct":86},{"c":"u","token":1.5,"pct":80},{"c":"u","token":2,"pct":71},{"c":"u","token":2.5,"pct":61},{"c":"u","token":3,"pct":49},{"c":"u","token":3.5,"pct":38},{"c":"u","token":4,"pct":29},{"c":"u","token":4.5,"pct":20},{"c":"u","token":5,"pct":15},{"c":"a","token":1,"pct":14},{"c":"a","token":1.5,"pct":20},{"c":"a","token":2,"pct":29},{"c":"a","token":2.5,"pct":39},{"c":"a","token":3,"pct":51},{"c":"a","token":3.5,"pct":62},{"c":"a","token":4,"pct":71},{"c":"a","token":4.5,"pct":80},{"c":"a","token":5,"pct":85}]},"mark":{"type":"line","color":"#111","strokeWidth":2.2,"interpolate":"monotone"},"encoding":{"detail":{"field":"c"}}},
{"data":{"values":[{"token":1,"pct":86},{"token":2,"pct":83},{"token":3,"pct":52},{"token":4,"pct":29},{"token":5,"pct":20},{"token":1,"pct":14},{"token":2,"pct":18},{"token":3,"pct":46.6},{"token":4,"pct":71.4},{"token":5,"pct":80}]},"mark":{"type":"point","shape":"triangle-up","filled":true,"color":"#111","size":190,"opacity":1}},
{"data":{"values":[{"token":2.8,"pct":108,"label":"-5dB"}]},"mark":{"type":"text","fontWeight":"bold","fontSize":15.5,"color":"#222","baseline":"middle"},"encoding":{"text":{"field":"label"}}}
]},

{"data":{"values":[{"snr":"clear","slope":4,"top":4.37},{"snr":"0","slope":3.45,"top":3.85},{"snr":"-5","slope":1.25,"top":1.43}]},"encoding":{"x":{"field":"snr","type":"ordinal","axis":null,"scale":{"domain":["clear","0","-5"],"range":[722,868],"paddingInner":0.08,"paddingOuter":0.47,"align":0.44}},"y":{"field":"top","type":"quantitative","axis":null,"scale":{"domain":[0,5],"range":[480,317]}}},"layer":[{"mark":{"type":"tick","color":"#111","orient":"horizontal","size":13,"thickness":1.5}},{"mark":{"type":"rule","color":"#111","strokeWidth":1.5},"encoding":{"y2":{"field":"slope"}}}]},
{"data":{"values":[{"snr":"clear","slope":4},{"snr":"0","slope":3.45},{"snr":"-5","slope":1.25}]},"encoding":{"x":{"field":"snr","type":"ordinal","sort":["clear","0","-5"],"scale":{"domain":["clear","0","-5"],"range":[722,868],"paddingInner":0.08,"paddingOuter":0.47,"align":0.44},"axis":{"orient":"bottom","offset":-260,"labelAngle":0,"title":"SNR (dB)","titlePadding":4,"labelPadding":4}},"y":{"field":"slope","type":"quantitative","scale":{"domain":[0,5],"range":[480,317]},"axis":{"orient":"left","offset":-722,"values":[0,1,2,3,4,5],"title":"Psychometric slope (b1)","titleX":-27,"titleBaseline":"middle"}}},"layer":[
{"mark":{"type":"bar"},"encoding":{"color":{"field":"snr","type":"nominal","legend":null,"scale":{"domain":["clear","0","-5"],"range":["#f00020","#1010e8","#000"]}}}},
{"data":{"values":[{"snr":"clear","slope":6.3,"label":"C"}]},"mark":{"type":"text","fontWeight":"bold","fontSize":17,"color":"#111","baseline":"middle","dx":-62},"encoding":{"text":{"field":"label"}}}
]},

{"data":{"values":[{"b0":3,"a":0,"b":1}]},"mark":{"type":"rule","color":"#555","strokeWidth":1.5,"strokeDash":[7,5]},"encoding":{"x":{"field":"b0","type":"quantitative","axis":null,"scale":{"domain":[0.64,5.4],"range":[888,1020]}},"y":{"field":"a","type":"quantitative","axis":null,"scale":{"domain":[0,1],"range":[480,317]}},"y2":{"field":"b"}}},
{"data":{"name":"boundary"},"mark":{"type":"rule","color":"#111","strokeWidth":1.5},"encoding":{"x":{"field":"low","type":"quantitative","axis":null,"scale":{"domain":[0.64,5.4],"range":[888,1020]}},"x2":{"field":"high"},"y":{"field":"snr","type":"ordinal","axis":null,"scale":{"type":"band","domain":["clear","0","-5"],"range":[317,480],"paddingInner":0,"paddingOuter":0.49}}}},
{"data":{"name":"boundary"},"mark":{"type":"point","shape":"circle","filled":true,"size":130,"opacity":1},"encoding":{"y":{"field":"snr","type":"ordinal","scale":{"type":"band","domain":["clear","0","-5"],"range":[317,480],"paddingInner":0,"paddingOuter":0.49},"axis":{"orient":"left","offset":-888,"labelPadding":5,"title":null}},"x":{"field":"b0","type":"quantitative","scale":{"domain":[0.64,5.4],"range":[888,1020]},"axis":{"orient":"top","offset":-317,"values":[1,2,3,4,5],"labelPadding":-2,"title":["Boundray","location (b0)"],"titlePadding":1,"titleLineHeight":16}},"color":{"field":"snr","type":"nominal","legend":null,"scale":{"domain":["clear","0","-5"],"range":["#f00020","#1010e8","#000"]}}}},
{"data":{"values":[{"b0":0.42,"label":"“u”"},{"b0":5.46,"label":"“a”"}]},"mark":{"type":"text","fontSize":16,"color":"#666","baseline":"middle","dy":-49},"encoding":{"x":{"field":"b0","type":"quantitative","axis":null,"scale":{"domain":[0.64,5.4],"range":[888,1020]}},"y":{"datum":"clear","type":"ordinal","axis":null,"scale":{"type":"band","domain":["clear","0","-5"],"range":[317,480],"paddingInner":0,"paddingOuter":0.49}},"text":{"field":"label"}}},
{"data":{"values":[{"b0":-0.47,"label":"D"}]},"mark":{"type":"text","fontWeight":"bold","fontSize":17,"color":"#111","baseline":"middle","dy":-84},"encoding":{"x":{"field":"b0","type":"quantitative","axis":null,"scale":{"domain":[0.64,5.4],"range":[888,1020]}},"y":{"datum":"clear","type":"ordinal","axis":null,"scale":{"type":"band","domain":["clear","0","-5"],"range":[317,480],"paddingInner":0,"paddingOuter":0.49}},"text":{"field":"label"}}},

{"data":{"name":"rt"},"encoding":{"x":{"field":"token","type":"quantitative","axis":null,"scale":{"domain":[0.27,5.83],"range":[1075,1242]}},"y":{"field":"low","type":"quantitative","axis":null,"scale":{"domain":[330,651],"range":[487,317]}},"color":{"field":"s","type":"nominal","legend":null,"scale":{"domain":["clear","0dB","-5dB"],"range":["#f00020","#1010e8","#111"]}}},"layer":[{"mark":{"type":"rule","strokeWidth":1.5},"encoding":{"y2":{"field":"high"}}},{"mark":{"type":"tick","orient":"horizontal","size":14,"thickness":1.5}},{"mark":{"type":"tick","orient":"horizontal","size":14,"thickness":1.5},"encoding":{"y":{"field":"high","type":"quantitative","axis":null}}}]},
{"data":{"name":"rt"},"encoding":{"x":{"field":"token","type":"quantitative","scale":{"domain":[0.27,5.83],"range":[1075,1242]},"axis":{"orient":"bottom","offset":-253,"values":[1,2,3,4,5],"labelExpr":"datum.value==1?['1','“u”']:datum.value==5?['5','“a”']:datum.label","title":"Token","titleY":30,"titleBaseline":"middle","labelPadding":0}},"y":{"field":"rt","type":"quantitative","scale":{"domain":[330,651],"range":[487,317]},"axis":{"orient":"left","offset":-1075,"values":[400,500,600],"title":"RT speed (ms)","titleX":-38,"titleY":415,"titleBaseline":"middle","labelPadding":0}},"color":{"field":"s","type":"nominal","legend":null,"scale":{"domain":["clear","0dB","-5dB"],"range":["#f00020","#1010e8","#111"]}}},"layer":[
{"mark":{"type":"line","strokeWidth":2.5}},
{"mark":{"type":"point","filled":true,"size":150,"opacity":1},"encoding":{"shape":{"field":"s","type":"nominal","legend":null,"scale":{"domain":["clear","0dB","-5dB"],"range":["circle","square","triangle-up"]}}}},
{"data":{"values":[{"token":-0.63,"rt":732,"label":"E"}]},"mark":{"type":"text","fontWeight":"bold","fontSize":17,"color":"#111","baseline":"middle"},"encoding":{"color":{"value":"#111"},"text":{"field":"label"}}}
]},

{"data":{"values":[{"s":"clear"},{"s":"0dB"},{"s":"-5dB"}]},"encoding":{"y":{"field":"s","type":"ordinal","axis":null,"scale":{"type":"band","domain":["clear","0dB","-5dB"],"range":[287,341],"paddingInner":0,"paddingOuter":0}}},"layer":[
{"mark":{"type":"rule","strokeWidth":2},"encoding":{"x":{"datum":0,"type":"quantitative","axis":null,"scale":{"domain":[0,1],"range":[1163,1194]}},"x2":{"datum":1},"color":{"field":"s","type":"nominal","legend":null,"scale":{"domain":["clear","0dB","-5dB"],"range":["#f00020","#1010e8","#111"]}}}},
{"mark":{"type":"point","filled":true,"size":130,"opacity":1},"encoding":{"x":{"datum":0.5,"type":"quantitative","axis":null},"color":{"field":"s","type":"nominal","legend":null},"shape":{"field":"s","type":"nominal","legend":null,"scale":{"domain":["clear","0dB","-5dB"],"range":["circle","square","triangle-up"]}}}},
{"mark":{"type":"text","align":"left","baseline":"middle","fontSize":15.5,"color":"#555"},"encoding":{"x":{"datum":1.16,"type":"quantitative","axis":null},"text":{"field":"s"}}}
]},

{"data":{"values":[
{"line":1,"col":0,"text":"FIGURE 1 |","w":"b"},{"line":1,"col":100,"text":"Spectrograms and behavioral speech categorization at three levels of signal-to-noise ratio (SNR)."},{"line":1,"col":878,"text":"(A)","w":"b"},{"line":1,"col":908,"text":"Spectrograms of individual speech tokens."},
{"line":2,"col":0,"text":"(B)","w":"b"},{"line":2,"col":30,"text":"Perceptual psychometric functions. Note the curves are mirror symmetric reflecting the percentage of “u” (left curve) and “a” identification (right curve),"},
{"line":3,"col":0,"text":"respectively."},{"line":3,"col":103,"text":"(C)","w":"b"},{"line":3,"col":133,"text":"Slopes and"},{"line":3,"col":228,"text":"(D)","w":"b"},{"line":3,"col":258,"text":"locations of the perceptual boundary show that speech categorizing is robust even down to 0 dB SNR."},{"line":3,"col":1089,"text":"(E)","w":"b"},{"line":3,"col":1116,"text":"Speech classification"},
{"line":4,"col":0,"text":"speeds (RTs) show a categorical slowing in labeling ("},{"line":4,"col":421,"text":"Pisoni and Tash, 1974; Bidelman and Walker, 2017","w":"c"},{"line":4,"col":828,"text":") for ambiguous tokens (midpoint) relative to unambiguous"},
{"line":5,"col":0,"text":"ones (endpoints) in unmasked and 0 dB SNR conditions. Categorization accuracy and speed deteriorate with noise interference by remains possible until severely"},
{"line":6,"col":0,"text":"degraded SNRs. Data reproduced from"},{"line":6,"col":318,"text":"Bidelman et al. (2019b)","w":"c"},{"line":6,"col":505,"text":". Spectrogram reproduced from"},{"line":6,"col":762,"text":"Bidelman et al. (2014)","w":"c"},{"line":6,"col":941,"text":", with permission from John Wiley & Sons."},
{"line":7,"col":0,"text":"errorbars = ± SEM."}
]},"encoding":{"x":{"field":"col","type":"quantitative","axis":null,"scale":{"domain":[0,1320],"range":[25,1345]}},"y":{"field":"line","type":"ordinal","axis":null,"scale":{"type":"point","domain":[1,2,3,4,5,6,7],"range":[573,726],"padding":0}},"text":{"field":"text"}},"layer":[
{"transform":[{"filter":"datum.w=='b'"}],"mark":{"type":"text","align":"left","baseline":"middle","fontSize":18,"fontWeight":"bold","color":"#222"}},
{"transform":[{"filter":"datum.w!='b'"}],"mark":{"type":"text","align":"left","baseline":"middle","fontSize":18},"encoding":{"color":{"condition":{"test":"datum.w=='c'","value":"#999"},"value":"#3a3a3a"}}}
]}
]}
